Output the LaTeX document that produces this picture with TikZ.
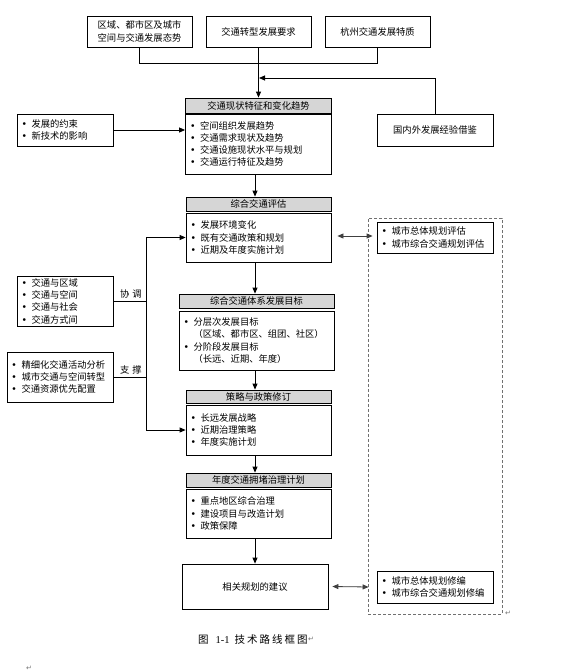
\documentclass[tikz,border=0pt]{standalone}
\usepackage{fontspec}
\setmainfont{Noto Sans CJK SC}
\newfontfamily\djv{DejaVu Sans}
\newfontfamily\tms{Liberation Serif}
\usetikzlibrary{arrows.meta}
\definecolor{hgray}{HTML}{D6D6D6}
\definecolor{dgray}{HTML}{707070}
\newcommand\fsz{\fontsize{9.3}{12.3}\selectfont}
\newcommand\bi[1]{\makebox[10pt][l]{\djv\textbullet}#1}
\newcommand\ci[1]{\hspace*{10pt}#1}
\tikzset{
  every node/.style={font=\fsz},
  box/.style={draw, line width=0.8pt, inner sep=0pt, align=center},
  hbox/.style={box, fill=hgray},
  lbox/.style={draw, line width=0.8pt, inner xsep=4.5pt, inner ysep=0pt, align=left},
  arr/.style={-{Triangle[length=6pt,width=5pt]}, line width=0.8pt},
  darr/.style={{Triangle[length=6pt,width=5pt]}-{Triangle[length=6pt,width=5pt]}, line width=0.8pt, draw=black!75, fill=black!75},
  ln/.style={line width=0.8pt},
  pmark/.style={font=\djv\fontsize{7}{8}\selectfont, text=black!55, inner sep=0pt}
}
\begin{document}
\begin{tikzpicture}[x=1pt,y=-1pt]
\useasboundingbox (0,0) rectangle (565,672);
% top boxes
\node[box, minimum width=105pt, minimum height=31pt] (t1) at (139.5,31.5) {区域、都市区及城市\\空间与交通发展态势};
\node[box, minimum width=105pt, minimum height=31pt] (t2) at (258.5,31.5) {交通转型发展要求};
\node[box, minimum width=105pt, minimum height=31pt] (t3) at (377.5,31.5) {杭州交通发展特质};
\coordinate (jl) at (139.5,63);
\coordinate (m) at (259,78);
% main column
\node[hbox, minimum width=146pt, minimum height=15pt] (h1) at (258.5,105.5) {交通现状特征和变化趋势};
\node[lbox, text width=137pt, minimum height=60pt] (c1) at (258.5,144) {\bi{空间组织发展趋势}\\\bi{交通需求现状及趋势}\\\bi{交通设施现状水平与规划}\\\bi{交通运行特征及趋势}};
\node[box, minimum width=116pt, minimum height=32pt] (ext) at (435,130) {国内外发展经验借鉴};
\node[lbox, text width=87pt, minimum height=32pt] (l1) at (65,130) {\bi{发展的约束}\\\bi{新技术的影响}};

\node[hbox, minimum width=145pt, minimum height=14pt] (h2) at (258.5,204) {综合交通评估};
\node[lbox, text width=136pt, minimum height=49pt] (c2) at (258.5,237.5) {\bi{发展环境变化}\\\bi{既有交通政策和规划}\\\bi{近期及年度实施计划}};

\node[hbox, minimum width=155pt, minimum height=14pt] (h3) at (256.5,301) {综合交通体系发展目标};
\node[lbox, text width=146pt, minimum height=59pt] (c3) at (256.5,340.5) {\bi{分层次发展目标}\\\ci{（区域、都市区、组团、社区）}\\\bi{分阶段发展目标}\\\ci{（长远、近期、年度）}};

\node[hbox, minimum width=145pt, minimum height=13pt] (h4) at (258.5,396.5) {策略与政策修订};
\node[lbox, text width=136pt, minimum height=50pt] (c4) at (258.5,430) {\bi{长远发展战略}\\\bi{近期治理策略}\\\bi{年度实施计划}};

\node[hbox, minimum width=145pt, minimum height=14pt] (h5) at (258.5,480) {年度交通拥堵治理计划};
\node[lbox, text width=136pt, minimum height=49pt] (c5) at (258.5,513.5) {\bi{重点地区综合治理}\\\bi{建设项目与改造计划}\\\bi{政策保障}};

\node[box, minimum width=146pt, minimum height=45pt] (sug) at (255,586.5) {相关规划的建议};

% left boxes
\node[lbox, text width=87pt, minimum height=50pt] (l2) at (65,301) {\bi{交通与区域}\\\bi{交通与空间}\\\bi{交通与社会}\\\bi{交通方式间}};
\node[lbox, text width=97pt, minimum height=50pt] (l3) at (60,377) {\bi{精细化交通活动分析}\\\bi{城市交通与空间转型}\\\bi{交通资源优先配置}};
\node[inner sep=0pt] (xt) at (131,294) {协\kern3pt 调};
\node[inner sep=0pt] (zc) at (131,370) {支\kern3pt 撑};
\coordinate (bus) at (146,0);

% right dashed group
\node[draw=dgray, dashed, dash pattern=on 3pt off 2pt, line width=0.8pt, minimum width=134pt, minimum height=396pt, inner sep=0pt] (grp) at (435,416) {};
\node[lbox, text width=107pt, minimum height=31pt] (r1) at (435,237.5) {\bi{城市总体规划评估}\\\bi{城市综合交通规划评估}};
\node[lbox, text width=107pt, minimum height=32pt] (r2) at (435,587) {\bi{城市总体规划修编}\\\bi{城市综合交通规划修编}};

% caption
\node[anchor=west, inner sep=0pt, font=\fontsize{10.5}{12}\selectfont] (cap) at (198,639) {图\hspace{7pt}{\tms 1-1}\hspace{5pt}技\kern2pt 术\kern2pt 路\kern2pt 线\kern2pt 框\kern2pt 图};
\node[pmark, anchor=west] (pm1) at (cap.east) {↵};
\node[pmark] (pm2) at (508,613) {↵};
\node[pmark] (pm3) at (29,668) {↵};

% connectors
\draw[ln] (t1.south) |- (jl) -| (t3.south);
\draw[arr] (t2.south) -- (h1.north);
\draw[arr] (ext.north) |- (m);
\draw[arr] (l1.east) -- (l1.east -| c1.west);
\draw[arr] ([xshift=-3.5pt]c1.south) -- ([xshift=-3.5pt]c1.south |- h2.north);
\draw[arr] ([xshift=-3.5pt]c2.south) -- ([xshift=-3.5pt]c2.south |- h3.north);
\draw[arr] ([xshift=-1.5pt]c3.south) -- ([xshift=-1.5pt]c3.south |- h4.north);
\draw[arr] ([xshift=-3.5pt]c4.south) -- ([xshift=-3.5pt]c4.south |- h5.north);
\draw[arr] ([xshift=-3.5pt]c5.south) -- ([xshift=-3.5pt]c5.south |- sug.north);
\draw[ln] (l2.east) -- (l2.east -| bus);
\draw[ln] (l3.east) -- (l3.east -| bus);
\draw[ln] (bus |- c4.west) -- (bus |- c2.west);
\draw[arr] (bus |- c2.west) -- (c2.west);
\draw[arr] (bus |- c4.west) -- (c4.west);
\draw[darr] ([xshift=6pt,yshift=1.5pt]c2.east) -- ([xshift=-4pt,yshift=1.5pt]r1.west);
\draw[darr] ([xshift=4pt]sug.east) -- ([xshift=-8pt]r2.west);
\end{tikzpicture}
\end{document}
